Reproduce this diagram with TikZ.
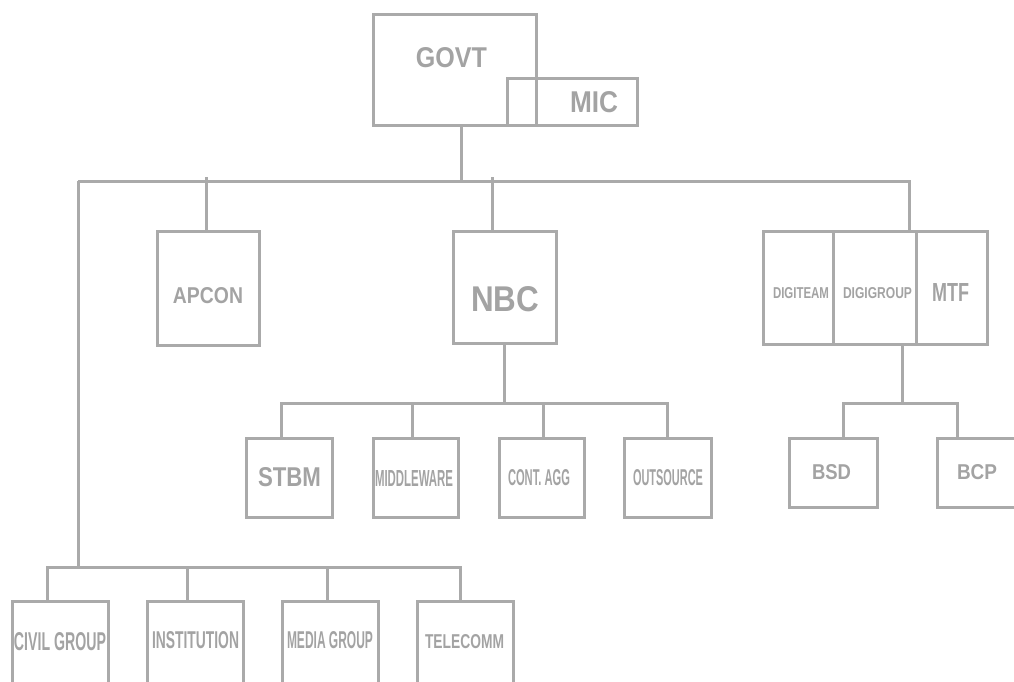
\documentclass[tikz,border=0pt]{standalone}
\usepackage{graphicx}
\usepackage{fontspec}
\setsansfont{Liberation Sans}
\definecolor{linegray}{RGB}{170,170,170}
\definecolor{txtgray}{RGB}{163,163,163}
\newcommand\lab[3]{\resizebox{#1pt}{#2pt}{\sffamily\bfseries #3}}
\tikzset{
  box/.style={draw=linegray, line width=3pt, rectangle, inner sep=0pt, outer sep=0pt},
  conn/.style={draw=linegray, line width=3pt},
  lbl/.style={text=txtgray, inner sep=0pt, outer sep=0pt}
}
\begin{document}
\begin{tikzpicture}[x=1pt, y=-1pt]
\path[use as bounding box] (0,0) rectangle (1014,681);
% boxes
\node[box, minimum width=163pt, minimum height=111pt] (govt) at (454.5,69.5) {};
\node[box, minimum width=130pt, minimum height=47pt] (mic) at (572,101.5) {};
\node[box, minimum width=102pt, minimum height=114pt] (apcon) at (208,288) {};
\node[box, minimum width=103pt, minimum height=112pt] (nbc) at (504.5,287) {};
\node[box, minimum width=70pt, minimum height=113pt] (digiteam) at (798,287.5) {};
\node[box, minimum width=83pt, minimum height=113pt] (digigroup) at (874.5,287.5) {};
\node[box, minimum width=71pt, minimum height=113pt] (mtf) at (951.5,287.5) {};
\node[box, minimum width=86pt, minimum height=79pt] (stbm) at (289,477.5) {};
\node[box, minimum width=85pt, minimum height=79pt] (middleware) at (415.5,477.5) {};
\node[box, minimum width=85pt, minimum height=79pt] (contagg) at (541.5,477.5) {};
\node[box, minimum width=87pt, minimum height=79pt] (outsource) at (667.5,477.5) {};
\node[box, minimum width=88pt, minimum height=69pt] (bsd) at (833,472.5) {};
\node[box, minimum width=79pt, minimum height=69pt] (bcp) at (976.5,472.5) {};
\node[box, minimum width=96pt, minimum height=82pt] (civil) at (60,642) {};
\node[box, minimum width=96pt, minimum height=82pt] (institution) at (195,642) {};
\node[box, minimum width=96pt, minimum height=82pt] (media) at (330,642) {};
\node[box, minimum width=96pt, minimum height=82pt] (telecomm) at (465,642) {};
% labels
\node[lbl] (govt-t) at (451.5,58) {\lab{71}{20}{GOVT}};
\node[lbl] (mic-t) at (594,102.5) {\lab{48}{21}{MIC}};
\node[lbl] (apcon-t) at (208,296) {\lab{70}{16}{APCON}};
\node[lbl] (nbc-t) at (505,299.5) {\lab{68}{25}{NBC}};
\node[lbl] (digiteam-t) at (801,293.5) {\lab{56}{11}{DIGITEAM}};
\node[lbl] (digigroup-t) at (877.5,293.5) {\lab{69}{11}{DIGIGROUP}};
\node[lbl] (mtf-t) at (950.5,292) {\lab{37}{18}{MTF}};
\node[lbl] (stbm-t) at (289.5,477.5) {\lab{63}{19}{STBM}};
\node[lbl] (middleware-t) at (414,478) {\lab{78}{16}{MIDDLEWARE}};
\node[lbl] (contagg-t) at (539,478) {\lab{62}{16}{CONT. AGG}};
\node[lbl] (outsource-t) at (668,478) {\lab{70}{16}{OUTSOURCE}};
\node[lbl] (bsd-t) at (831.5,472.5) {\lab{39}{15}{BSD}};
\node[lbl] (bcp-t) at (977,472.5) {\lab{40}{15}{BCP}};
\node[lbl] (civil-t) at (60,642) {\lab{92}{18}{CIVIL GROUP}};
\node[lbl] (institution-t) at (195.5,640.5) {\lab{87}{17}{INSTITUTION}};
\node[lbl] (media-t) at (330,640.5) {\lab{86}{17}{MEDIA GROUP}};
\node[lbl] (telecomm-t) at (464.5,642) {\lab{79}{14}{TELECOMM}};
% bus coordinates
\coordinate (topbus) at (0,181);
\coordinate (leftbus) at (78,181);
\coordinate (rightbus) at (909,181);
\coordinate (nbcbus) at (0,403);
\coordinate (rbus) at (0,403);
\coordinate (botbus) at (78,567);
% top level
\draw[conn] ([xshift=6.5pt]govt.south) -- ([xshift=6.5pt]govt.south |- topbus);
\draw[conn] (leftbus) -- (rightbus) -- (rightbus |- digigroup.north);
\draw[conn] ([xshift=-2pt,yshift=4pt]apcon.north |- topbus) -- ([xshift=-2pt]apcon.north);
\draw[conn] ([xshift=-12.5pt,yshift=4pt]nbc.north |- topbus) -- ([xshift=-12.5pt]nbc.north);
\draw[conn] (leftbus) -- (botbus);
% NBC children
\draw[conn] (nbc.south) -- (nbc.south |- nbcbus);
\draw[conn] ([xshift=-8pt]stbm.north) -- ([xshift=-8pt]stbm.north |- nbcbus) -- (outsource.north |- nbcbus) -- (outsource.north);
\draw[conn] ([xshift=-3.5pt]middleware.north) -- ([xshift=-3.5pt]middleware.north |- nbcbus);
\draw[conn] ([xshift=1.5pt]contagg.north) -- ([xshift=1.5pt]contagg.north |- nbcbus);
% right group children
\draw[conn] ([xshift=-14pt]digigroup.south east) -- ([xshift=-14pt]digigroup.south east |- rbus);
\draw[conn] ([xshift=10pt]bsd.north) -- ([xshift=10pt]bsd.north |- rbus) -- ([xshift=-19.5pt]bcp.north |- rbus) -- ([xshift=-19.5pt]bcp.north);
% bottom row
\draw[conn] ([xshift=-13pt]civil.north) -- ([xshift=-13pt]civil.north |- botbus) -- ([xshift=-5pt]telecomm.north |- botbus) -- ([xshift=-5pt]telecomm.north);
\draw[conn] ([xshift=-8pt]institution.north) -- ([xshift=-8pt]institution.north |- botbus);
\draw[conn] ([xshift=-3pt]media.north) -- ([xshift=-3pt]media.north |- botbus);
\end{tikzpicture}
\end{document}
